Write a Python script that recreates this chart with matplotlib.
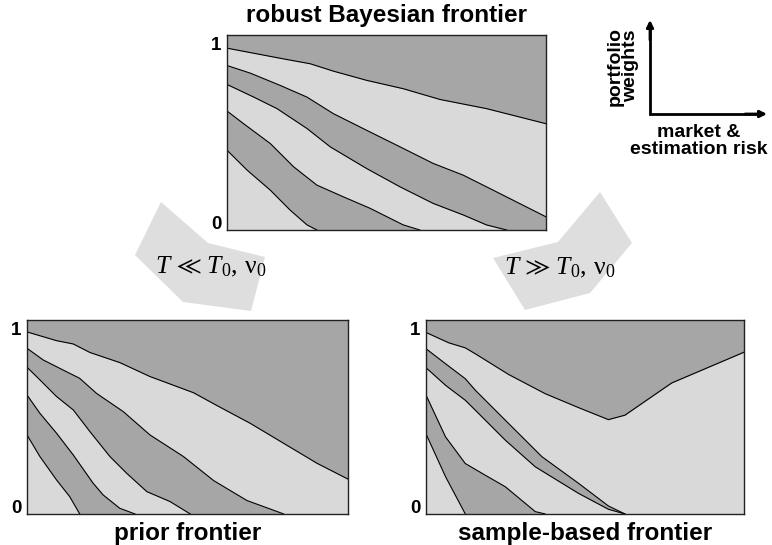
import matplotlib
matplotlib.use("Agg")
import matplotlib.pyplot as plt
from matplotlib.patches import Polygon

plt.rcParams['font.family'] = ['Liberation Sans', 'DejaVu Sans']
plt.rcParams['mathtext.fontset'] = 'custom'
plt.rcParams['mathtext.rm'] = 'Liberation Serif'
plt.rcParams['mathtext.it'] = 'Liberation Serif:italic'
plt.rcParams['mathtext.fallback'] = 'stix'

DARK = '#a6a6a6'
LIGHT = '#d9d9d9'
ARROW_GREY = '#dedede'

# boundaries between asset weights (cumulative), top curve first
# x = market & estimation risk (0..1), y = cumulative portfolio weight
robust_x = [
    [0, 0.177, 0.261, 0.334, 0.438, 0.553, 0.668, 0.814, 1.0],
    [0, 0.073, 0.167, 0.251, 0.334, 0.438, 0.543, 0.647, 0.741, 0.835, 1.0],
    [0, 0.084, 0.157, 0.251, 0.324, 0.438, 0.543, 0.647, 0.741, 0.814, 0.877],
    [0, 0.052, 0.136, 0.209, 0.282, 0.365, 0.449, 0.553, 0.605],
    [0, 0.063, 0.136, 0.198, 0.251, 0.282],
]
robust_y = [
    [0.932, 0.877, 0.852, 0.814, 0.767, 0.724, 0.669, 0.622, 0.545],
    [0.843, 0.804, 0.741, 0.681, 0.596, 0.511, 0.426, 0.341, 0.281, 0.204, 0.068],
    [0.746, 0.681, 0.622, 0.520, 0.426, 0.315, 0.221, 0.136, 0.077, 0.026, 0.0],
    [0.610, 0.545, 0.443, 0.324, 0.230, 0.170, 0.111, 0.026, 0.0],
    [0.409, 0.307, 0.204, 0.102, 0.026, 0.0],
]

prior_x = [
    [0, 0.092, 0.144, 0.196, 0.289, 0.383, 0.518, 0.601, 0.695, 0.799, 0.903, 1.0],
    [0, 0.050, 0.112, 0.164, 0.216, 0.300, 0.383, 0.487, 0.581, 0.685, 0.799],
    [0, 0.040, 0.092, 0.144, 0.196, 0.258, 0.310, 0.373, 0.445, 0.508],
    [0, 0.040, 0.092, 0.144, 0.206, 0.237, 0.289, 0.336],
    [0, 0.040, 0.092, 0.133, 0.164],
]
prior_y = [
    [0.938, 0.893, 0.876, 0.832, 0.780, 0.708, 0.625, 0.550, 0.467, 0.364, 0.261, 0.179],
    [0.854, 0.794, 0.742, 0.699, 0.622, 0.527, 0.407, 0.296, 0.172, 0.069, 0.0],
    [0.756, 0.691, 0.605, 0.536, 0.424, 0.296, 0.210, 0.115, 0.064, 0.0],
    [0.613, 0.519, 0.416, 0.304, 0.158, 0.098, 0.029, 0.0],
    [0.407, 0.296, 0.175, 0.089, 0.0],
]

sample_x = [
    [0, 0.071, 0.123, 0.155, 0.259, 0.374, 0.479, 0.573, 0.625, 0.772, 1.0],
    [0, 0.061, 0.123, 0.155, 0.249, 0.364, 0.479, 0.573, 0.625],
    [0, 0.061, 0.123, 0.155, 0.249, 0.343, 0.479, 0.573, 0.625],
    [0, 0.061, 0.123, 0.176, 0.249, 0.343, 0.374],
    [0, 0.061, 0.123],
]
sample_y = [
    [0.935, 0.882, 0.856, 0.825, 0.719, 0.620, 0.548, 0.486, 0.509, 0.675, 0.834],
    [0.851, 0.774, 0.697, 0.637, 0.483, 0.295, 0.158, 0.041, 0.0],
    [0.753, 0.663, 0.586, 0.534, 0.380, 0.243, 0.106, 0.024, 0.0],
    [0.611, 0.397, 0.260, 0.209, 0.140, 0.012, 0.0],
    [0.411, 0.192, 0.0],
]

tick_pos = [0.04, 0.955]
tick_lab = ['0', '1']


def frontier(ax, xs, ys):
    ax.set_facecolor(DARK)
    # paint bands from the top down, alternating light/dark
    for i in range(len(xs)):
        col = LIGHT if i % 2 == 0 else DARK
        ax.fill_between(xs[i], 0, ys[i], color=col, lw=0, zorder=1)
    for i in range(len(xs)):
        ax.plot(xs[i], ys[i], color='black', lw=0.8, zorder=2)
    ax.set_xlim(0, 1)
    ax.set_ylim(0, 1)
    ax.set_xticks([])
    ax.set_yticks(tick_pos, tick_lab)
    ax.tick_params(axis='y', length=0, pad=4, labelsize=13.5)
    for t in ax.get_yticklabels():
        t.set_fontweight('bold')
    for s in ax.spines.values():
        s.set_color('#222222')
        s.set_linewidth(1.0)


fig = plt.figure(figsize=(7.72, 5.45), dpi=100)

# overlay in pixel coordinates for the decorations
ov = fig.add_axes([0, 0, 1, 1], zorder=0)
ov.set_xlim(0, 772)
ov.set_ylim(545, 0)
ov.axis('off')

ax_top = fig.add_axes([0.294, 0.578, 0.413, 0.358], zorder=2)
ax_bl = fig.add_axes([0.035, 0.057, 0.416, 0.356], zorder=2)
ax_br = fig.add_axes([0.552, 0.057, 0.412, 0.356], zorder=2)

frontier(ax_top, robust_x, robust_y)
frontier(ax_bl, prior_x, prior_y)
frontier(ax_br, sample_x, sample_y)

ax_top.set_title('robust Bayesian frontier', fontsize=17.5, fontweight='bold', pad=9)
ax_bl.set_xlabel('prior frontier', fontsize=17.5, fontweight='bold', labelpad=6)
ax_br.set_xlabel('sample-based frontier', fontsize=17.5, fontweight='bold', labelpad=6)

# grey arrow shapes
left_shape = [(161, 202), (208, 243), (265, 257), (251, 311), (183, 302), (135, 255)]
right_shape = [(600, 192), (632, 243), (590, 293), (525, 310), (493, 258), (558, 242)]
ov.add_patch(Polygon(left_shape, closed=True, facecolor=ARROW_GREY, edgecolor='none'))
ov.add_patch(Polygon(right_shape, closed=True, facecolor=ARROW_GREY, edgecolor='none'))
ov.text(211, 273, r'$T\,\ll\,T_0,\,\mathrm{ν}_0$', fontsize=18.5, ha='center', va='baseline')
ov.text(560, 274, r'$T\,\gg\,T_0,\,\mathrm{ν}_0$', fontsize=18.5, ha='center', va='baseline')

# axes legend icon
ov.plot([650, 650, 760], [27, 114, 114], color='black', lw=2, solid_joinstyle='miter')
ov.annotate('', xy=(650, 20), xytext=(650, 40),
            arrowprops=dict(arrowstyle='-|>', color='black', lw=2, mutation_scale=10,
                            shrinkA=0, shrinkB=0))
ov.annotate('', xy=(767, 114), xytext=(745, 114),
            arrowprops=dict(arrowstyle='-|>', color='black', lw=2, mutation_scale=10,
                            shrinkA=0, shrinkB=0))
ov.text(623, 66, 'portfolio\nweights', rotation=90, fontsize=14, fontweight='bold',
        ha='center', va='center', linespacing=0.9)
ov.text(699, 141, 'market &\nestimation risk', fontsize=14, fontweight='bold',
        ha='center', va='center', linespacing=0.95)

fig.savefig('out.png', dpi=100)
